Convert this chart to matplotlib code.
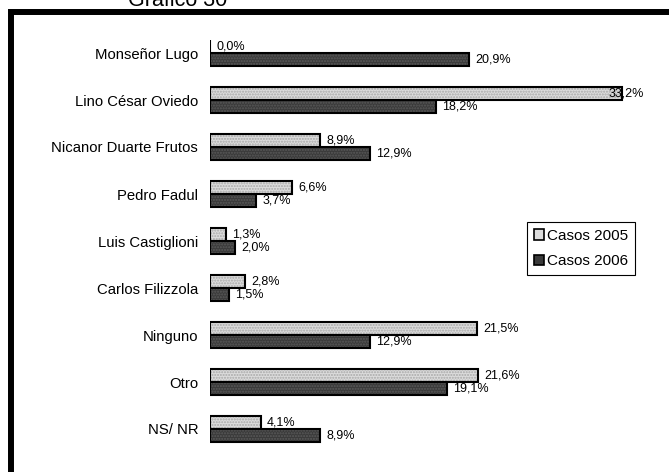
import matplotlib
matplotlib.use('Agg')
import matplotlib.pyplot as plt
import numpy as np
from matplotlib.patches import Rectangle

plt.rcParams['font.family'] = ['Liberation Sans', 'DejaVu Sans']

candidatos = ['Monseñor Lugo', 'Lino César Oviedo', 'Nicanor Duarte Frutos',
              'Pedro Fadul', 'Luis Castiglioni', 'Carlos Filizzola',
              'Ninguno', 'Otro', 'NS/ NR']
casos_2005 = [0.0, 33.2, 8.9, 6.6, 1.3, 2.8, 21.5, 21.6, 4.1]
casos_2006 = [20.9, 18.2, 12.9, 3.7, 2.0, 1.5, 12.9, 19.1, 8.9]

W, H = 669, 472
fig = plt.figure(figsize=(W / 100, H / 100), dpi=100)
ax = fig.add_axes([210 / W, 1 - 452.5 / H, 446.8 / W, 423 / H])

y = np.arange(len(candidatos))
h = 0.285

def barras(pos, vals, fondo, puntos):
    # relleno con trama de puntos y luego el borde negro encima
    ax.barh(pos, vals, height=h, color=fondo, hatch='......',
            edgecolor=puntos, linewidth=0)
    ax.barh(pos, vals, height=h, fill=False, edgecolor='black', linewidth=1.5)

barras(y - h / 2, casos_2005, '#dcdcdc', '#a8a8a8')
barras(y + h / 2, casos_2006, '#3a3a3a', '#5a5a5a')

def etiqueta(v, pos):
    txt = f"{v:.1f}".replace('.', ',') + '%'
    xa = min(v, 31.6)
    ax.annotate(txt, (xa, pos), xytext=(4.5, 0), textcoords='offset points',
                va='center', ha='left', fontsize=9, annotation_clip=False)

for i in range(len(candidatos)):
    etiqueta(casos_2005[i], y[i] - h / 2)
    etiqueta(casos_2006[i], y[i] + h / 2)

ax.set_xlim(0, 36)
ax.set_ylim(len(candidatos) - 0.5, -0.5)
ax.set_yticks(y)
ax.set_yticklabels(candidatos, fontsize=10.7)
ax.tick_params(axis='y', length=0, pad=8.5)
ax.set_xticks([])
for s in ax.spines.values():
    s.set_visible(False)

# leyenda con muestras cuadradas
h1 = Rectangle((0, 0), 1, 1, facecolor='#dcdcdc', edgecolor='black', lw=1.2)
h2 = Rectangle((0, 0), 1, 1, facecolor='#3a3a3a', edgecolor='black', lw=1.2)
fig.legend([h1, h2], ['Casos 2005', 'Casos 2006'], loc='upper left',
           bbox_to_anchor=(527 / W, 1 - 222 / H), fontsize=11,
           fancybox=False, frameon=True, edgecolor='black', framealpha=1,
           handlelength=0.65, handleheight=0.65, handletextpad=0.2,
           borderpad=0.45, labelspacing=0.75, borderaxespad=0)
fig.legends[0].get_frame().set_linewidth(0.8)

# marco grueso del grafico (se corta por la derecha y por abajo)
marco = Rectangle((11 / W, -0.2), 2, 1.2 - 12 / H, transform=fig.transFigure,
                  fill=False, edgecolor='black', linewidth=4.3, clip_on=False)
fig.patches.append(marco)

fig.text(128 / W, 1 - 6 / H, 'Gráfico 30', fontsize=15.5, ha='left', va='baseline')

fig.savefig('out.png', dpi=100)
